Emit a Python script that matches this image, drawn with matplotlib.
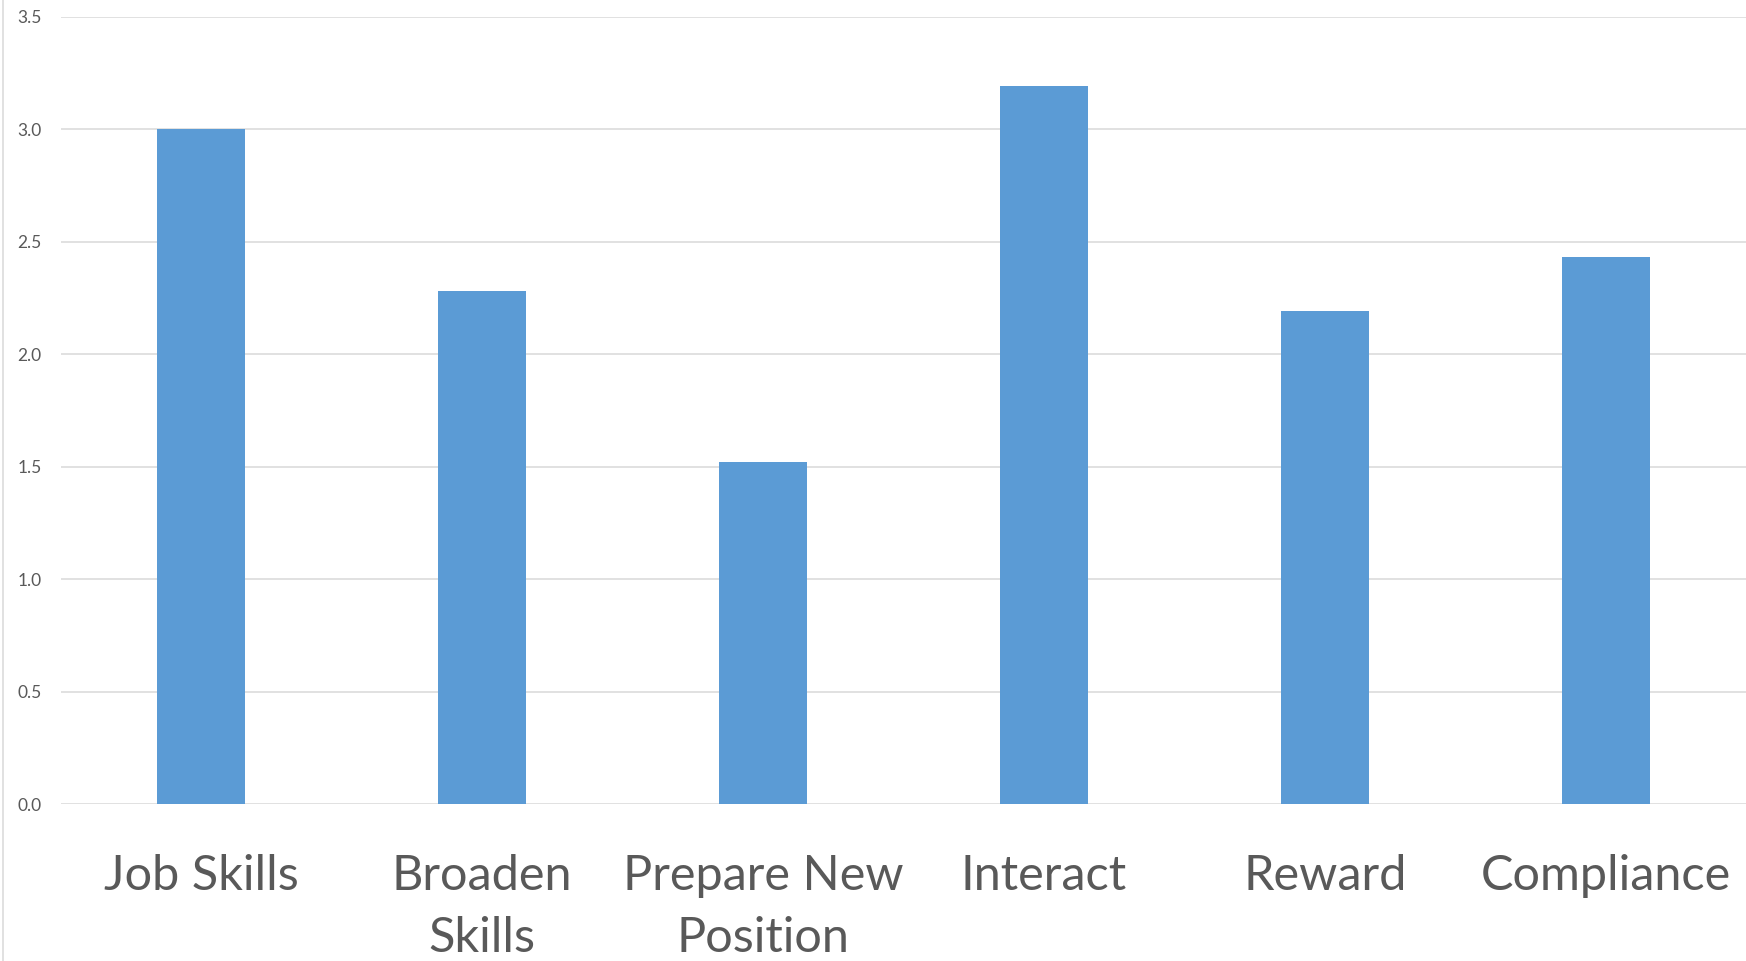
import matplotlib
matplotlib.use("Agg")
import matplotlib.pyplot as plt
from matplotlib.lines import Line2D

# Data
categories = ["Job Skills", "Broaden\nSkills", "Prepare New\nPosition", "Interact", "Reward", "Compliance"]
values = [3.0, 2.28, 1.52, 3.19, 2.19, 2.43]
y_ticks = [0.0, 0.5, 1.0, 1.5, 2.0, 2.5, 3.0, 3.5]

plt.rcParams['font.family'] = ['Lato', 'DejaVu Sans']

fig = plt.figure(figsize=(17.46, 9.61), dpi=100)
ax = fig.add_axes([61 / 1746, 1 - 804.3 / 961, 1 - 61 / 1746, (804.3 - 16.7) / 961])

x = range(len(categories))
ax.bar(x, values, width=0.313, color="#5B9BD5", zorder=3)

ax.set_xlim(-0.5, len(categories) - 0.5)
ax.set_ylim(0, 3.5)
ax.set_yticks(y_ticks)
ax.set_yticklabels([f"{v:.1f}" for v in y_ticks])
ax.set_xticks(list(x))
ax.set_xticklabels(categories, fontsize=35, color="#595959", linespacing=1.5)

ax.yaxis.grid(True, color="#d9d9d9", linewidth=1.1, zorder=0)
ax.tick_params(axis="y", length=0, pad=14, labelsize=12.5, labelcolor="#595959")
ax.tick_params(axis="x", length=0, pad=36)
for s in ax.spines.values():
    s.set_visible(False)

# chart border on the left edge
fig.add_artist(Line2D([3.5 / 1746, 3.5 / 1746], [0, 1], color="#d9d9d9", linewidth=1.1, transform=fig.transFigure))

fig.savefig("out.png", dpi=100)
